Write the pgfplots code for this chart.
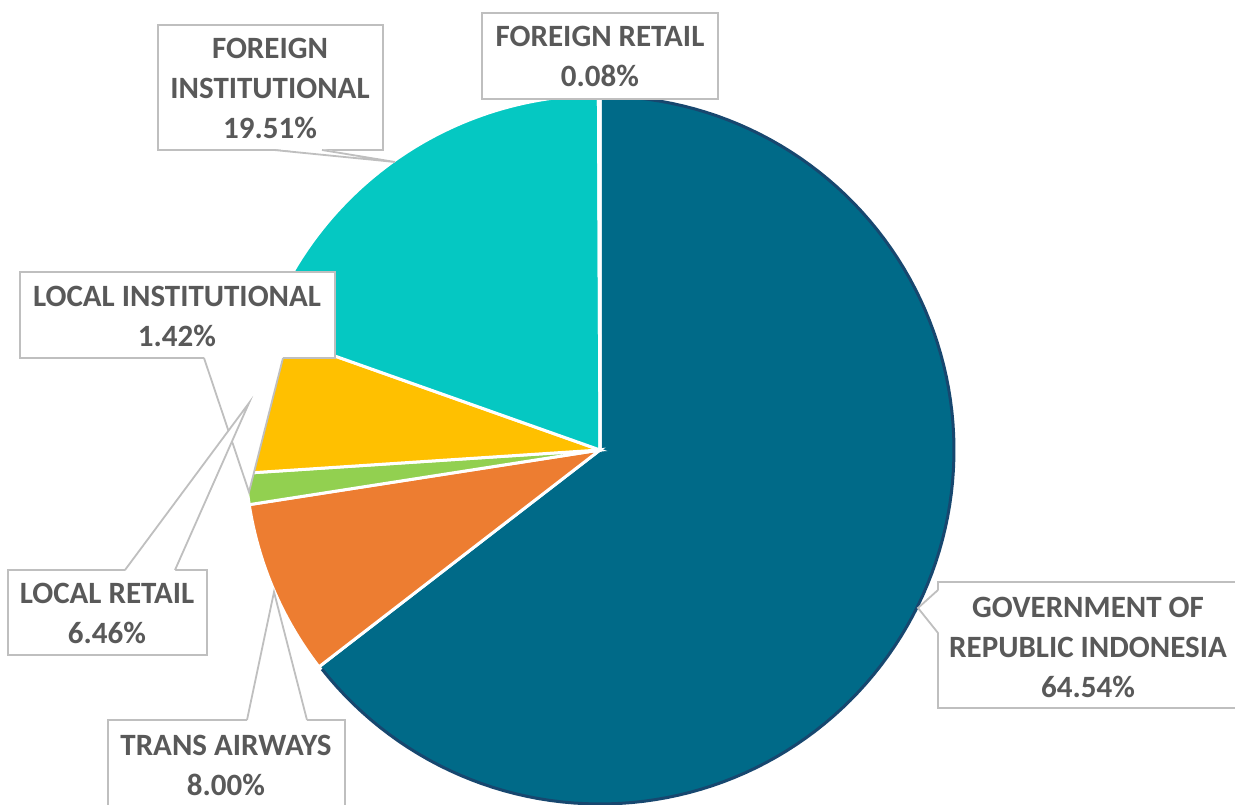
\documentclass[border=0pt]{standalone}
\usepackage{pgfplots}
\usepackage{pgfplotstable}
\pgfplotsset{compat=1.18}
\usepackage{fontspec}
\setmainfont{Carlito}
\definecolor{cgov}{HTML}{006A88}
\definecolor{cgovedge}{HTML}{17476F}
\definecolor{ctrans}{HTML}{ED7D31}
\definecolor{clinst}{HTML}{92D050}
\definecolor{clret}{HTML}{FFC000}
\definecolor{cfinst}{HTML}{05C8C2}
\definecolor{cfret}{HTML}{1F77B4}
\definecolor{ctext}{HTML}{595959}
\definecolor{cbox}{HTML}{BFBFBF}

\pgfplotstableread{
label value
gov 64.54
trans 8.00
linst 1.42
lret 6.46
finst 19.51
fret 0.08
}\piedata

\pgfplotstablegetelem{0}{value}\of\piedata \let\vA\pgfplotsretval
\pgfplotstablegetelem{1}{value}\of\piedata \let\vB\pgfplotsretval
\pgfplotstablegetelem{2}{value}\of\piedata \let\vC\pgfplotsretval
\pgfplotstablegetelem{3}{value}\of\piedata \let\vD\pgfplotsretval
\pgfplotstablegetelem{4}{value}\of\piedata \let\vE\pgfplotsretval
\pgfplotstablegetelem{5}{value}\of\piedata \let\vF\pgfplotsretval

\pgfmathsetmacro\aA{90}
\pgfmathsetmacro\aB{\aA-3.6*\vA}
\pgfmathsetmacro\aC{\aB-3.6*\vB}
\pgfmathsetmacro\aD{\aC-3.6*\vC}
\pgfmathsetmacro\aE{\aD-3.6*\vD}
\pgfmathsetmacro\aF{\aE-3.6*\vE}
\pgfmathsetmacro\aG{\aF-3.6*\vF}

\tikzset{lbl/.style={align=center, text=ctext, font=\bfseries\fontsize{31}{40}\selectfont}}

\begin{document}
\begin{tikzpicture}
\begin{axis}[
  width=1235pt, height=804pt, scale only axis,
  xmin=0, xmax=1235, ymin=0, ymax=804,
  hide axis, clip=false,
]
% slices
\addplot[fill=cgov, draw=white, line width=3pt, domain=\aB:\aA, samples=120]
  ({600+355*cos(x)},{354+355*sin(x)}) -- (600,354) -- cycle;
\addplot[fill=ctrans, draw=white, line width=3pt, domain=\aC:\aB, samples=30]
  ({600+355*cos(x)},{354+355*sin(x)}) -- (600,354) -- cycle;
\addplot[fill=clinst, draw=white, line width=3pt, domain=\aD:\aC, samples=10]
  ({600+355*cos(x)},{354+355*sin(x)}) -- (600,354) -- cycle;
\addplot[fill=clret, draw=white, line width=3pt, domain=\aE:\aD, samples=30]
  ({600+355*cos(x)},{354+355*sin(x)}) -- (600,354) -- cycle;
\addplot[fill=cfinst, draw=white, line width=3pt, domain=\aF:\aE, samples=60]
  ({600+355*cos(x)},{354+355*sin(x)}) -- (600,354) -- cycle;
\addplot[fill=cfret, draw=white, line width=3pt, domain=\aG:\aF, samples=3]
  ({600+355*cos(x)},{354+355*sin(x)}) -- (600,354) -- cycle;
% dark outer edge of the government slice
\addplot[draw=cgovedge, line width=3pt, domain=\aB+0.6:\aA-6, samples=120]
  ({600+354*cos(x)},{354+354*sin(x)});

% callouts
\begin{scope}[every path/.style={line width=1.8pt}]
% foreign retail
\draw[cbox, fill=white] (482,705) rectangle (718,791);
\node[lbl] at (600,748) {FOREIGN RETAIL\\0.08\%};
% foreign institutional
\draw[cbox, fill=white] (158,654) rectangle (383,779);
\fill[white] (274,655) -- (395,642) -- (322,655) -- cycle;
\draw[cbox] (274,654) -- (395,642) -- (322,654);
\node[lbl] at (270,716) {FOREIGN\\INSTITUTIONAL\\19.51\%};
% local institutional
\draw[cbox, fill=white] (20,446) rectangle (335,532);
\fill[white] (204,447) -- (249,312) -- (283,447) -- cycle;
\draw[cbox] (204,446) -- (249,312) -- (283,446);
\node[lbl] at (177,488) {LOCAL INSTITUTIONAL\\1.42\%};
% local retail
\draw[cbox, fill=white] (8,149) rectangle (207,234);
\fill[white] (125,233) -- (249,401) -- (175,233) -- cycle;
\draw[cbox] (125,234) -- (249,401) -- (175,234);
\node[lbl] at (107,191) {LOCAL RETAIL\\6.46\%};
% trans airways
\draw[cbox, fill=white] (108,-20) rectangle (345,84);
\fill[white] (247,83) -- (274,212) -- (307,83) -- cycle;
\draw[cbox] (247,84) -- (274,212) -- (307,84);
\node[lbl] at (226,39) {TRANS AIRWAYS\\8.00\%};
% government
\draw[cbox, fill=white] (938,96) rectangle (1245,222);
\fill[white] (939,214) -- (918,196) -- (939,171) -- cycle;
\draw[cbox] (938,214) -- (918,196) -- (938,171);
\node[lbl] at (1088,157) {GOVERNMENT OF\\REPUBLIC INDONESIA\\64.54\%};
\end{scope}
\end{axis}
\pgfresetboundingbox
\path[use as bounding box] (0,0) rectangle (1235pt,804pt);
\end{tikzpicture}
\end{document}
